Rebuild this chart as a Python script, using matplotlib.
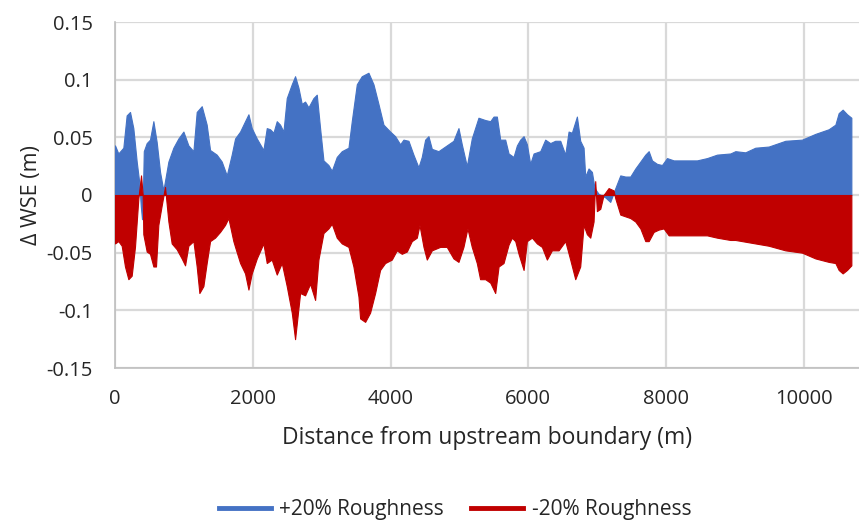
import matplotlib
matplotlib.use("Agg")
import matplotlib.pyplot as plt
from matplotlib.lines import Line2D

# ---- data (envelope) ----
dist_plus = [0, 48, 121, 169, 218, 266, 315, 350, 375, 392, 405, 418, 460, 508, 557, 605, 654, 702,
             775, 847, 920, 993, 1065, 1138, 1186, 1259, 1331, 1380, 1476, 1549, 1622, 1694, 1743,
             1816, 1888, 1937, 1985, 2058, 2154, 2203, 2251, 2300, 2348, 2396, 2445, 2493, 2566,
             2614, 2663, 2711, 2759, 2808, 2880, 2929, 2977, 3026, 3098, 3147, 3219, 3292, 3389,
             3437, 3510, 3582, 3679, 3752, 3824, 3897, 3994, 4066, 4139, 4187, 4260, 4332, 4405,
             4453, 4502, 4550, 4599, 4695, 4816, 4913, 4986, 5034, 5107, 5179, 5276, 5374, 5447,
             5495, 5543, 5592, 5664, 5713, 5785, 5834, 5882, 5931, 5979, 6027, 6076, 6173, 6245,
             6318, 6390, 6463, 6536, 6584, 6632, 6705, 6753, 6802, 6826, 6874, 6923, 6961, 7020,
             7116, 7189, 7263, 7335, 7408, 7480, 7553, 7626, 7698, 7747, 7795, 7868, 7940, 8013,
             8110, 8448, 8594, 8739, 8932, 9005, 9150, 9295, 9489, 9731, 9973, 10167, 10360,
             10457, 10505, 10563, 10626, 10689]
wse_plus20 = [0.043, 0.036, 0.041, 0.069, 0.072, 0.058, 0.029, 0.012, -0.010, -0.021, 0.0, 0.038,
              0.045, 0.048, 0.064, 0.046, 0.020, 0.004, 0.029, 0.041, 0.049, 0.055, 0.043, 0.038,
              0.072, 0.077, 0.061, 0.039, 0.035, 0.029, 0.017, 0.035, 0.049, 0.055, 0.064, 0.070,
              0.058, 0.049, 0.039, 0.058, 0.057, 0.054, 0.064, 0.061, 0.055, 0.084, 0.096, 0.103,
              0.093, 0.079, 0.081, 0.076, 0.084, 0.087, 0.058, 0.030, 0.026, 0.021, 0.033, 0.038,
              0.041, 0.064, 0.096, 0.103, 0.106, 0.096, 0.079, 0.061, 0.055, 0.051, 0.044, 0.048,
              0.047, 0.035, 0.024, 0.033, 0.048, 0.051, 0.040, 0.038, 0.043, 0.047, 0.058, 0.044,
              0.025, 0.049, 0.067, 0.065, 0.064, 0.068, 0.068, 0.048, 0.048, 0.036, 0.033, 0.043,
              0.048, 0.051, 0.044, 0.027, 0.036, 0.038, 0.048, 0.045, 0.047, 0.047, 0.035, 0.055,
              0.054, 0.068, 0.047, 0.041, 0.016, 0.023, 0.020, 0.006, 0.001, -0.002, -0.006, 0.006,
              0.017, 0.016, 0.016, 0.023, 0.029, 0.035, 0.038, 0.030, 0.027, 0.026, 0.032, 0.030,
              0.030, 0.032, 0.035, 0.036, 0.038, 0.037, 0.041, 0.042, 0.047, 0.048, 0.053, 0.057,
              0.061, 0.071, 0.074, 0.070, 0.067]

dist_minus = [0, 48, 97, 145, 194, 242, 290, 339, 378, 402, 411, 460, 508, 557, 595, 629, 678, 726,
              775, 823, 895, 968, 1017, 1065, 1138, 1186, 1225, 1283, 1331, 1380, 1452, 1525, 1597,
              1646, 1718, 1743, 1816, 1888, 1937, 1985, 2058, 2154, 2203, 2275, 2348, 2421, 2493,
              2566, 2614, 2687, 2759, 2832, 2905, 2953, 3026, 3098, 3147, 3219, 3292, 3389, 3461,
              3534, 3558, 3631, 3703, 3776, 3848, 3921, 4018, 4090, 4163, 4236, 4308, 4381, 4420,
              4478, 4526, 4599, 4720, 4816, 4913, 4986, 5058, 5116, 5179, 5252, 5300, 5374, 5447,
              5519, 5568, 5640, 5713, 5761, 5810, 5858, 5931, 5979, 6052, 6124, 6197, 6269, 6342,
              6439, 6536, 6608, 6681, 6753, 6802, 6850, 6899, 6947, 6971, 6995, 7044, 7092, 7165,
              7237, 7263, 7335, 7480, 7553, 7626, 7698, 7747, 7819, 7892, 7964, 8037, 8448, 8594,
              8739, 8932, 9005, 9295, 9489, 9731, 9973, 10167, 10360, 10457, 10505, 10563, 10626,
              10689]
wse_minus20 = [-0.042, -0.040, -0.044, -0.062, -0.073, -0.070, -0.045, -0.003, 0.017, 0.0, -0.034,
               -0.049, -0.051, -0.062, -0.062, -0.026, -0.009, 0.007, -0.023, -0.042, -0.047,
               -0.055, -0.061, -0.044, -0.040, -0.062, -0.085, -0.079, -0.059, -0.040, -0.037,
               -0.032, -0.026, -0.020, -0.040, -0.045, -0.059, -0.068, -0.082, -0.068, -0.055,
               -0.042, -0.059, -0.056, -0.069, -0.059, -0.079, -0.102, -0.125, -0.085, -0.087,
               -0.077, -0.091, -0.056, -0.033, -0.029, -0.025, -0.037, -0.042, -0.045, -0.062,
               -0.088, -0.107, -0.110, -0.102, -0.085, -0.065, -0.059, -0.056, -0.048, -0.051,
               -0.049, -0.040, -0.037, -0.026, -0.045, -0.056, -0.048, -0.045, -0.045, -0.055,
               -0.058, -0.045, -0.029, -0.045, -0.059, -0.073, -0.073, -0.076, -0.085, -0.062,
               -0.059, -0.043, -0.037, -0.040, -0.051, -0.065, -0.040, -0.037, -0.042, -0.045,
               -0.056, -0.048, -0.048, -0.040, -0.056, -0.073, -0.062, -0.026, -0.034, -0.037,
               -0.023, 0.012, -0.014, -0.012, 0.0, 0.006, 0.004, -0.003, -0.017, -0.020, -0.023,
               -0.029, -0.040, -0.040, -0.032, -0.030, -0.029, -0.035, -0.035, -0.035, -0.037,
               -0.039, -0.039, -0.042, -0.044, -0.048, -0.050, -0.055, -0.058, -0.059, -0.065,
               -0.068, -0.065, -0.061]

series_labels = ["+20% Roughness", "-20% Roughness"]
x_ticks = [0, 2000, 4000, 6000, 8000, 10000]
y_ticks = [-0.15, -0.1, -0.05, 0, 0.05, 0.1, 0.15]
y_tick_labels = ["-0.15", "-0.1", "-0.05", "0", "0.05", "0.1", "0.15"]

BLUE = "#4472C4"
RED = "#C00000"
GRID = "#D9D9D9"
TXT = "#262626"

plt.rcParams['font.family'] = ['Open Sans', 'DejaVu Sans']

fig = plt.figure(figsize=(8.59, 5.2), dpi=100)
ax = fig.add_axes([115 / 859, 1 - 368 / 520, 1 - 115 / 859, 346 / 520])

ax.fill_between(dist_plus, 0, wse_plus20, color=BLUE, linewidth=0.8, edgecolor=BLUE, zorder=3)
ax.fill_between(dist_minus, 0, wse_minus20, color=RED, linewidth=0.8, edgecolor=RED, zorder=4)

ax.set_xlim(0, 10800)
ax.set_ylim(-0.15, 0.15)
ax.set_xticks(x_ticks)
ax.set_xticklabels([str(t) for t in x_ticks])
ax.set_yticks(y_ticks)
ax.set_yticklabels(y_tick_labels)
ax.tick_params(axis='both', length=0, labelsize=14.5, colors=TXT)
ax.tick_params(axis='x', pad=15)
ax.tick_params(axis='y', pad=16)

ax.grid(True, color=GRID, linewidth=1.6, zorder=0)
ax.set_axisbelow(True)
for s in ["top", "right"]:
    ax.spines[s].set_visible(False)
for s in ["left", "bottom"]:
    ax.spines[s].set_color("#BFBFBF")
    ax.spines[s].set_linewidth(1.2)

ax.set_xlabel("Distance from upstream boundary (m)", fontsize=16.5, color=TXT, labelpad=12)
ax.set_ylabel("Δ WSE (m)", fontsize=15.5, color=TXT, labelpad=3)

handles = [Line2D([0], [0], color=BLUE, linewidth=3.5),
           Line2D([0], [0], color=RED, linewidth=3.5)]
fig.legend(handles, series_labels, loc="center", bbox_to_anchor=(455 / 859, 1 - 510 / 520),
           ncol=2, frameon=False, fontsize=15, handlelength=2.5, handletextpad=0.4,
           columnspacing=1.3, labelcolor=TXT)

fig.savefig("out.png", dpi=100)
